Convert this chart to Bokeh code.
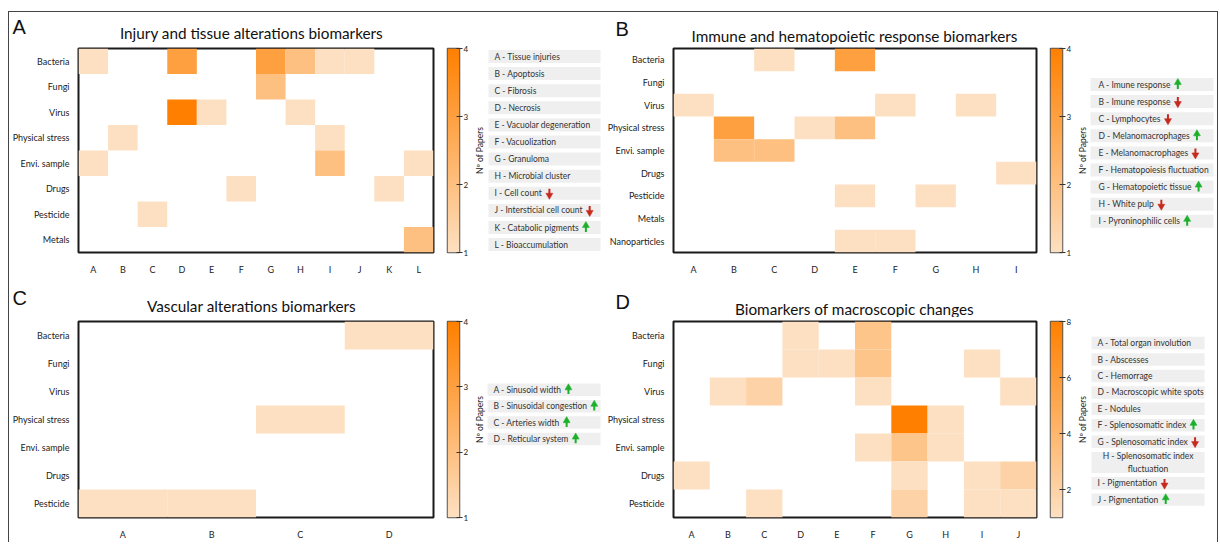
import subprocess
import numpy as np
from bokeh.plotting import figure
from bokeh.models import FactorRange, Range1d, LinearColorMapper, FixedTicker, ColumnDataSource, Title
from bokeh.layouts import row, column
from bokeh.embed import file_html
from bokeh.resources import INLINE
from bokeh.core.properties import value

# ---------------- data ----------------
a_rows = ["Bacteria", "Fungi", "Virus", "Physical stress", "Envi. sample", "Drugs", "Pesticide", "Metals"]
a_cols = ["A", "B", "C", "D", "E", "F", "G", "H", "I", "J", "K", "L"]
a_values = [
    [1, 0, 0, 3, 0, 0, 3, 2, 1, 1, 0, 0],
    [0, 0, 0, 0, 0, 0, 2, 0, 0, 0, 0, 0],
    [0, 0, 0, 4, 1, 0, 0, 1, 0, 0, 0, 0],
    [0, 1, 0, 0, 0, 0, 0, 0, 1, 0, 0, 0],
    [1, 0, 0, 0, 0, 0, 0, 0, 2, 0, 0, 1],
    [0, 0, 0, 0, 0, 1, 0, 0, 0, 0, 1, 0],
    [0, 0, 1, 0, 0, 0, 0, 0, 0, 0, 0, 0],
    [0, 0, 0, 0, 0, 0, 0, 0, 0, 0, 0, 2],
]
a_labels = ["A - Tissue injuries", "B - Apoptosis", "C - Fibrosis", "D - Necrosis",
            "E - Vacuolar degeneration", "F - Vacuolization", "G - Granuloma",
            "H - Microbial cluster", "I - Cell count", "J - Intersticial cell count",
            "K - Catabolic pigments", "L - Bioaccumulation"]
a_arrows = ["", "", "", "", "", "", "", "", "down", "down", "up", ""]

b_rows = ["Bacteria", "Fungi", "Virus", "Physical stress", "Envi. sample", "Drugs", "Pesticide", "Metals", "Nanoparticles"]
b_cols = ["A", "B", "C", "D", "E", "F", "G", "H", "I"]
b_values = [
    [0, 0, 1, 0, 3, 0, 0, 0, 0],
    [0, 0, 0, 0, 0, 0, 0, 0, 0],
    [1, 0, 0, 0, 0, 1, 0, 1, 0],
    [0, 3, 0, 1, 2, 0, 0, 0, 0],
    [0, 2, 2, 0, 0, 0, 0, 0, 0],
    [0, 0, 0, 0, 0, 0, 0, 0, 1],
    [0, 0, 0, 0, 1, 0, 1, 0, 0],
    [0, 0, 0, 0, 0, 0, 0, 0, 0],
    [0, 0, 0, 0, 1, 1, 0, 0, 0],
]
b_labels = ["A - Imune response", "B - Imune response", "C - Lymphocytes",
            "D - Melanomacrophages", "E - Melanomacrophages", "F - Hematopoiesis fluctuation",
            "G - Hematopoietic tissue", "H - White pulp", "I - Pyroninophilic cells"]
b_arrows = ["up", "down", "down", "up", "down", "", "up", "down", "up"]

c_rows = ["Bacteria", "Fungi", "Virus", "Physical stress", "Envi. sample", "Drugs", "Pesticide"]
c_cols = ["A", "B", "C", "D"]
c_values = [
    [0, 0, 0, 1],
    [0, 0, 0, 0],
    [0, 0, 0, 0],
    [0, 0, 1, 0],
    [0, 0, 0, 0],
    [0, 0, 0, 0],
    [1, 1, 0, 0],
]
c_labels = ["A - Sinusoid width", "B - Sinusoidal congestion", "C - Arteries width", "D - Reticular system"]
c_arrows = ["up", "up", "up", "up"]

d_rows = ["Bacteria", "Fungi", "Virus", "Physical stress", "Envi. sample", "Drugs", "Pesticide"]
d_cols = ["A", "B", "C", "D", "E", "F", "G", "H", "I", "J"]
d_values = [
    [0, 0, 0, 1, 0, 3, 0, 0, 0, 0],
    [0, 0, 0, 1, 1, 3, 0, 0, 1, 0],
    [0, 1, 2, 0, 0, 1, 0, 0, 0, 1],
    [0, 0, 0, 0, 0, 0, 8, 1, 0, 0],
    [0, 0, 0, 0, 0, 1, 3, 1, 0, 0],
    [1, 0, 0, 0, 0, 0, 1, 0, 1, 2],
    [0, 0, 1, 0, 0, 0, 2, 0, 1, 1],
]
d_labels = ["A - Total organ involution", "B - Abscesses", "C - Hemorrage",
            "D - Macroscopic white spots", "E - Nodules", "F - Splenosomatic index",
            "G - Splenosomatic index", "H - Splenosomatic index\nfluctuation",
            "I - Pigmentation", "J - Pigmentation"]
d_arrows = ["", "", "", "", "", "up", "down", "", "down", "up"]

titles_top = ["Injury and tissue alterations biomarkers", "Immune and hematopoietic response biomarkers"]
titles_bottom = ["Vascular alterations biomarkers", "Biomarkers of macroscopic changes"]
letters_top = ["A", "B"]
letters_bottom = ["C", "D"]
cbar_title = "Nº of Papers"

# ---------------- style / geometry (page pixels) ----------------
FONT = "Lato"
LOW_RGB = (253, 224, 193)
HIGH_RGB = (255, 128, 0)
palette = []
for t in np.linspace(0, 1, 256):
    r, g, b = [int(round(lo + (hi - lo) * t)) for lo, hi in zip(LOW_RGB, HIGH_RGB)]
    palette.append("#%02x%02x%02x" % (r, g, b))

ARROW_COLORS = {"up": "#1cb02a", "down": "#c62a1e"}

X0, X1 = 9, 1217                 # content area inside the frame lines
HDR1 = (12, 44)
ROW1 = (44, 280)
HDR2 = (280, 317)
ROW2 = (317, 542)
FRAME_H = 204
TOP_B = 4

_font = None
try:
    from PIL import ImageFont
    path = subprocess.run(["fc-match", "-f", "%{file}", FONT], capture_output=True, text=True).stdout.strip()
    _font = ImageFont.truetype(path, 85)
except Exception:
    _font = None


def text_w(s, size=8.5):
    if _font is not None:
        try:
            return _font.getlength(s) * size / 85.0
        except Exception:
            pass
    return len(s) * size * 0.48


def heatmap(rows, cols, vals, high, width, left, right, rowspan):
    mapper = LinearColorMapper(palette=palette, low=1, high=high)
    H = rowspan[1] - rowspan[0]
    p = figure(x_range=FactorRange(*cols), y_range=FactorRange(*rows[::-1]),
               width=width, height=H, output_backend="svg", toolbar_location=None, title=None,
               min_border_left=left, min_border_right=right, min_border_top=TOP_B,
               min_border_bottom=H - TOP_B - FRAME_H)
    xs, ys, vs = [], [], []
    for i, rname in enumerate(rows):
        for j, cname in enumerate(cols):
            if vals[i][j] > 0:
                xs.append(cname); ys.append(rname); vs.append(vals[i][j])
    src = ColumnDataSource(dict(x=xs, y=ys, v=vs))
    p.rect(x="x", y="y", width=1, height=1, source=src,
           fill_color={"field": "v", "transform": mapper}, line_color=None)
    p.outline_line_color = "#1a1a1a"
    p.outline_line_width = 2
    p.outline_line_alpha = 1
    p.grid.grid_line_color = None
    for ax in (p.xaxis, p.yaxis):
        ax.axis_line_color = None
        ax.major_tick_line_color = None
        ax.minor_tick_line_color = None
        ax.major_label_text_font = FONT
        ax.major_label_text_color = "#222222"
    p.xaxis.major_label_text_font_size = "9px"
    p.xaxis.major_label_standoff = 5
    p.yaxis.major_label_text_font_size = "9px"
    p.yaxis.major_label_standoff = 3
    return p


def colorbar(high, ticks, rowspan):
    mapper = LinearColorMapper(palette=palette, low=1, high=high)
    H = rowspan[1] - rowspan[0]
    p = figure(x_range=Range1d(0, 1), y_range=Range1d(1, high), width=31, height=H, title=None,
               output_backend="svg", toolbar_location=None, x_axis_location=None, y_axis_location="right",
               min_border_left=7, min_border_right=9, min_border_top=TOP_B,
               min_border_bottom=H - TOP_B - FRAME_H)
    grad = np.linspace(1, high, 256).reshape(-1, 1)
    p.image(image=[grad], x=0, y=1, dw=1, dh=high - 1, color_mapper=mapper)
    p.grid.grid_line_color = None
    p.outline_line_color = "#555555"
    p.outline_line_width = 1.5
    ax = p.yaxis
    ax.ticker = FixedTicker(ticks=ticks)
    ax.axis_line_color = None
    ax.major_tick_out = 3
    ax.major_tick_in = 3
    ax.major_tick_line_color = "#333333"
    ax.minor_tick_line_color = None
    ax.major_label_standoff = 1
    ax.major_label_text_font = FONT
    ax.major_label_text_font_size = "8px"
    ax.major_label_text_color = "#222222"
    return p


def legend(labels, arrows, fx0, fx1, rowspan, bx0, bx1, first_top, gap=4.1, box_h=13, pad=6):
    H = rowspan[1] - rowspan[0]
    left_b = 13
    ft = rowspan[0] + TOP_B
    fb = ft + FRAME_H
    p = figure(x_range=Range1d(fx0 + left_b, fx1), y_range=Range1d(fb, ft), width=fx1 - fx0, height=H,
               output_backend="svg", toolbar_location=None, x_axis_location=None, y_axis_location=None,
               title=None, min_border_left=left_b, min_border_right=0, min_border_top=TOP_B,
               min_border_bottom=H - TOP_B - FRAME_H)
    p.outline_line_color = None
    p.grid.grid_line_color = None
    p.add_layout(Title(text=cbar_title, align="center", text_font=FONT, text_font_size="8.5px",
                       text_font_style="normal", text_color="#222222", standoff=2), "left")
    xc, yc, hh = [], [], []
    tx, ty, tt = [], [], []
    mx, my, mt = [], [], []
    up_x, up_y, dn_x, dn_y = [], [], [], []
    y = first_top
    for lab, arr in zip(labels, arrows):
        nlines = lab.count("\n") + 1
        h = box_h if nlines == 1 else box_h + 9
        c = y + h / 2.0
        xc.append((bx0 + bx1) / 2.0); yc.append(c); hh.append(h)
        if nlines == 1:
            tx.append(bx0 + pad); ty.append(c); tt.append(lab)
        else:
            mx.append((bx0 + bx1) / 2.0); my.append(c); mt.append(lab)
        if arr:
            ax_ = bx0 + pad + text_w(lab) + 8
            if arr == "up":
                up_x.append(ax_); up_y.append(c)
            else:
                dn_x.append(ax_); dn_y.append(c)
        y += h + gap
    p.rect(x=xc, y=yc, width=bx1 - bx0, height=hh, fill_color="#efefef", line_color=None)
    p.text(x=tx, y=ty, text=tt, text_font=value(FONT), text_font_size=value("8.5px"),
           text_color="#333333", text_align="left", text_baseline="middle")
    if mt:
        p.text(x=mx, y=my, text=mt, text_font=value(FONT), text_font_size=value("8.5px"),
               text_color="#333333", text_align="center", text_baseline="middle", text_line_height=1.3)
    if up_x:
        col = ARROW_COLORS["up"]
        p.segment(x0=up_x, y0=[v + 4.5 for v in up_y], x1=up_x, y1=[v - 1 for v in up_y],
                  line_color=col, line_width=2)
        p.scatter(x=up_x, y=[v - 2 for v in up_y], marker="triangle", size=7,
                  fill_color=col, line_color=col, line_width=0.5)
    if dn_x:
        col = ARROW_COLORS["down"]
        p.segment(x0=dn_x, y0=[v - 4.5 for v in dn_y], x1=dn_x, y1=[v + 1 for v in dn_y],
                  line_color=col, line_width=2)
        p.scatter(x=dn_x, y=[v + 2 for v in dn_y], marker="inverted_triangle", size=7,
                  fill_color=col, line_color=col, line_width=0.5)
    return p


def header(span, letters, letter_mid, titles, title_mid):
    H = span[1] - span[0]
    p = figure(x_range=Range1d(X0, X1), y_range=Range1d(span[1], span[0]), width=X1 - X0, height=H,
               output_backend="svg", toolbar_location=None, x_axis_location=None, y_axis_location=None,
               title=None, min_border=0)
    p.outline_line_color = None
    p.grid.grid_line_color = None
    p.text(x=[12, 615], y=letter_mid, text=letters, text_font=value("Liberation Sans"),
           text_font_size=value("20px"), text_color="#111111", text_align="left", text_baseline="middle")
    p.text(x=[251, 854], y=title_mid, text=titles, text_font=value(FONT),
           text_font_size=value("15.3px"), text_color="#111111", text_align="center",
           text_baseline="middle")
    return p


# panel widths (page x): figA 9-440, cb 440-471, leg 471-604, figB 604-1043, cb 1043-1074, leg 1074-1217
hdr1 = header(HDR1, letters_top, [26.5, 28.5], titles_top, [32.5, 35.2])
figA = heatmap(a_rows, a_cols, a_values, 4, 431, 60, 7, ROW1)
cbA = colorbar(4, [1, 2, 3, 4], ROW1)
legA = legend(a_labels, a_arrows, 471, 604, ROW1, 487, 600, 49.5)
figB = heatmap(b_rows, b_cols, b_values, 4, 439, 68, 7, ROW1)
cbB = colorbar(4, [1, 2, 3, 4], ROW1)
legB = legend(b_labels, b_arrows, 1074, 1217, ROW1, 1089, 1213, 77.5, pad=8)

hdr2 = header(HDR2, letters_bottom, [297.5, 301.5], titles_bottom, [305.8, 308.5])
figC = heatmap(c_rows, c_cols, c_values, 4, 431, 60, 7, ROW2)
cbC = colorbar(4, [1, 2, 3, 4], ROW2)
legC = legend(c_labels, c_arrows, 471, 604, ROW2, 486, 600, 385.5)
figD = heatmap(d_rows, d_cols, d_values, 8, 439, 68, 7, ROW2)
cbD = colorbar(8, [2, 4, 6, 8], ROW2)
legD = legend(d_labels, d_arrows, 1074, 1217, ROW2, 1090, 1204, 337)

layout = column(
    hdr1,
    row(figA, cbA, legA, figB, cbB, legB),
    hdr2,
    row(figC, cbC, legC, figD, cbD, legD),
    styles={"margin-left": "8px", "margin-top": "11px",
            "border-top": "1px solid #444", "border-left": "1px solid #444",
            "border-right": "1px solid #444"},
)

open("out.html", "w").write(file_html(layout, INLINE))
